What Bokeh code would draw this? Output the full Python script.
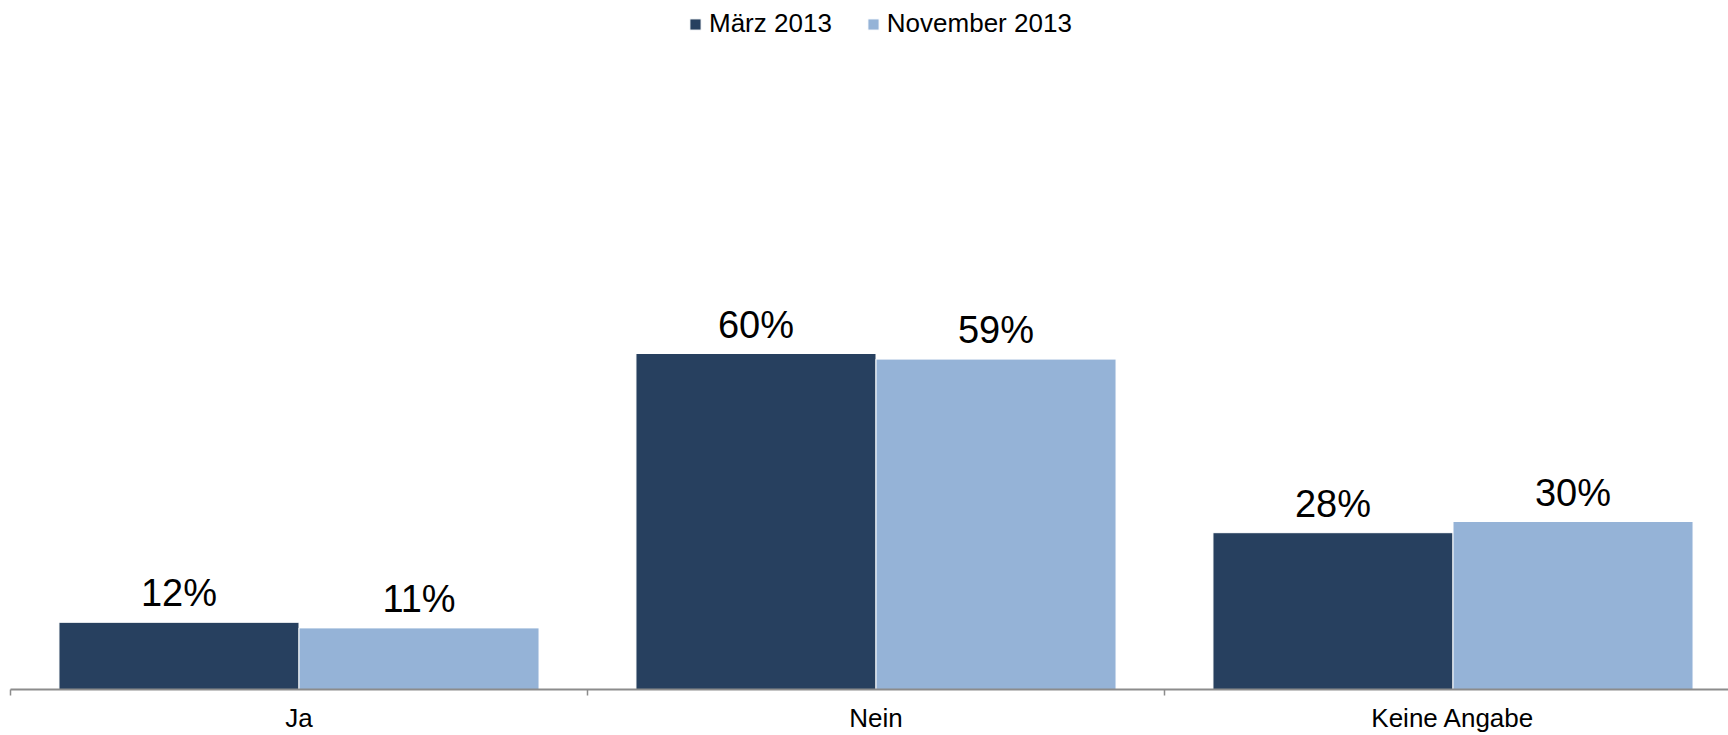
from bokeh.plotting import figure
from bokeh.models import ColumnDataSource, Range1d, FixedTicker, LabelSet
from bokeh.core.properties import value
from bokeh.embed import file_html
from bokeh.resources import INLINE

categories = ["Ja", "Nein", "Keine Angabe"]
maerz_2013 = [12, 60, 28]
november_2013 = [11, 59, 30]
series_names = ["März 2013", "November 2013"]
colors = ["#27405F", "#95B3D7"]

FONT = "Liberation Sans"
idx = list(range(len(categories)))
centers = [i + 0.5 for i in idx]
offset = 0.208
bar_w = 0.416

src_m = ColumnDataSource(dict(
    x=[c - offset for c in centers], y=maerz_2013,
    lbl=[f"{v}%" for v in maerz_2013]))
src_n = ColumnDataSource(dict(
    x=[c + offset for c in centers], y=november_2013,
    lbl=[f"{v}%" for v in november_2013]))

W, H = 1728, 735
left = 10
frame_h = 689
px_per_pct = 5.6
cat_px = 577
frame_w = W - left

p = figure(width=W, height=H, output_backend="svg", toolbar_location=None,
           x_range=Range1d(0, frame_w / cat_px),
           y_range=Range1d(0, frame_h / px_per_pct),
           min_border_left=left, min_border_right=0, min_border_top=0,
           min_border_bottom=H - frame_h)
p.outline_line_color = None
p.grid.visible = False
p.yaxis.visible = False
p.background_fill_color = "white"
p.border_fill_color = "white"

p.vbar(x="x", top="y", width=bar_w, source=src_m, fill_color=colors[0],
       line_color="white", line_width=1, legend_label=series_names[0])
p.vbar(x="x", top="y", width=bar_w, source=src_n, fill_color=colors[1],
       line_color="white", line_width=1, legend_label=series_names[1])

for s in (src_m, src_n):
    p.add_layout(LabelSet(x="x", y="y", text="lbl", source=s,
                          text_align="center", text_baseline="alphabetic",
                          y_offset=16, text_font=value(FONT),
                          text_font_size=value("38px"),
                          text_color=value("black")))

ax = p.xaxis[0]
ax.ticker = FixedTicker(ticks=centers, minor_ticks=[float(i) for i in range(len(categories) + 1)])
ax.major_label_overrides = {c: n for c, n in zip(centers, categories)}
ax.major_tick_line_color = None
ax.major_tick_out = 0
ax.major_tick_in = 0
ax.minor_tick_line_color = "#8C8C8C"
ax.minor_tick_line_width = 1.5
ax.minor_tick_out = 6
ax.minor_tick_in = 0
ax.axis_line_color = "#8C8C8C"
ax.axis_line_width = 2
ax.major_label_standoff = 7
ax.major_label_text_font = FONT
ax.major_label_text_font_size = "26px"
ax.major_label_text_color = "black"

lg = p.legend[0]
lg.orientation = "horizontal"
lg.location = (678, 650)
lg.border_line_color = None
lg.background_fill_alpha = 0
lg.padding = 0
lg.margin = 0
lg.spacing = 34
lg.label_standoff = 7
lg.glyph_width = 14
lg.glyph_height = 14
lg.label_text_font = FONT
lg.label_text_font_size = "26px"
lg.label_text_color = "black"
lg.label_height = 26

open("out.html", "w").write(file_html(p, INLINE))
